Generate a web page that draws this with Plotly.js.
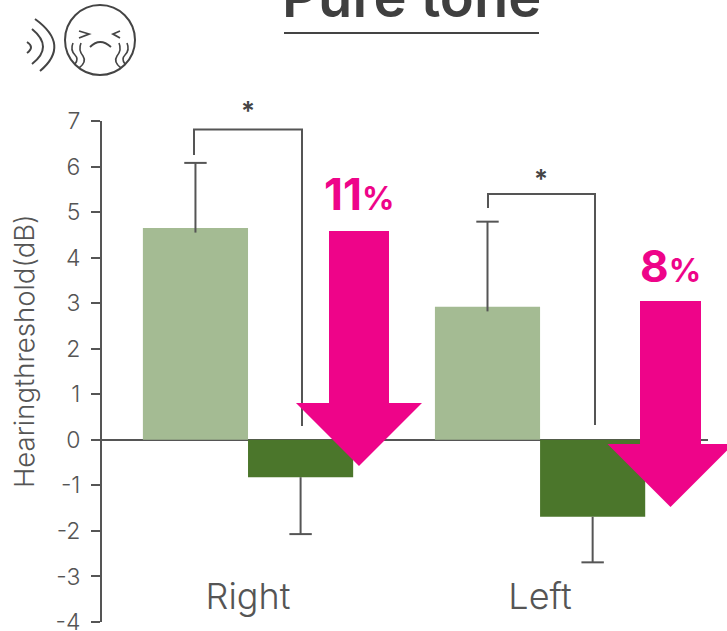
<!DOCTYPE html>
<html><head><meta charset="utf-8">
<script src="https://cdn.plot.ly/plotly-3.0.1.min.js"></script>
<style>html,body{margin:0;padding:0;background:#fff;overflow:hidden}#c{width:727px;height:631px}</style>
</head><body><div id="c"></div>
<script>
const categories = ['Right', 'Left'];
const positions = [0, 1];
const controlValues = [4.65, 2.92];
const controlErrors = [1.43, 1.87];
const treatedValues = [-0.82, -1.69];
const treatedErrors = [1.25, 1.0];
const yTicks = [-4,-3,-2,-1,0,1,2,3,4,5,6,7];
const reductions = ['11', '8'];

const ink = '#555555', L = 102, T = 121, W = 606, H = 501, gap = 0.28;
const fx = p => (p - L) / W, fy = p => (T + H - p) / H;
const path = (cmds) => cmds.map(c => c[0] + c.slice(1).map((v, i) => (i % 2 ? fy(v) : fx(v)).toFixed(5)).join(',')).join(' ') ;
const stroke = (cmds, w, col) => ({type:'path', xref:'paper', yref:'paper', layer:'above', path:path(cmds), line:{color:col||ink, width:w||2}, fillcolor:'rgba(0,0,0,0)'});
const arrow = (cx, top, neck, tip, sw, hw) => ({type:'path', xref:'paper', yref:'paper', layer:'above', line:{width:0}, fillcolor:'#EE0489',
  path:path([['M',cx-sw,top],['L',cx+sw,top],['L',cx+sw,neck],['L',cx+hw,neck],['L',cx,tip],['L',cx-hw,neck],['L',cx-sw,neck],['Z']])});

const shapes = [
  stroke([['M',194,155],['L',194,129.5],['L',302,129.5],['L',302,426]]),
  stroke([['M',488,208],['L',488,194],['L',595,194],['L',595,425]]),
  arrow(359, 231, 403, 466, 30, 63),
  arrow(670.5, 301, 444, 507, 30.5, 63),
  {type:'circle', xref:'paper', yref:'paper', x0:fx(65), x1:fx(135), y0:fy(75), y1:fy(5), line:{color:'#444', width:2}, fillcolor:'rgba(0,0,0,0)'},
  stroke([['M',35,19],['Q',71,45,40,71]], 2, '#444'),
  stroke([['M',32,29],['Q',54,47,32,64]], 2, '#444'),
  stroke([['M',27,42],['Q',35,47,27,53]], 2, '#444'),
  stroke([['M',79,31],['L',89,34],['L',79,38]], 1.8, '#444'),
  stroke([['M',120,31],['L',113,34],['L',120,38]], 1.8, '#444'),
  stroke([['M',90,47],['Q',100,37,111,47]], 1.8, '#444'),
  stroke([['M',81,43],['Q',78,50,83,56],['Q',87,62,79,68]], 1.6, '#444'),
  stroke([['M',73,43],['Q',70,50,75,55],['Q',79,59,75,64]], 1.6, '#444'),
  stroke([['M',119,43],['Q',122,50,117,56],['Q',113,62,121,68]], 1.6, '#444'),
  stroke([['M',127,43],['Q',130,50,125,55],['Q',121,59,125,64]], 1.6, '#444'),
  {type:'line', xref:'paper', yref:'paper', x0:fx(284), x1:fx(539), y0:fy(33), y1:fy(33), line:{color:'#444', width:2}}
];

const pct = (n) => '<b>' + n + '<span style="font-size:32px">%</span></b>';
const note = (text, x, y, size, col, weight, angle) => ({text, xref:'paper', yref:'paper', x:fx(x), y:fy(y), xanchor:'center', yanchor:'middle', showarrow:false, textangle:angle||0, font:{family:'Inter', size, color:col, weight:weight||400}});
const annotations = [
  note('Pure tone', 411, -3, 56, '#3f3f3f', 600),
  note('*', 248, 110, 26, '#444', 600),
  note('*', 541, 179, 26, '#444', 600),
  note(pct(reductions[0]), 359, 194, 44, '#EE0489', 800),
  note(pct(reductions[1]), 670, 266, 44, '#EE0489', 800),
  note('Hearingthreshold(dB)', 24, 351, 27.5, ink, 300, -90)
];

const barOffset = (1 - gap) / 4;
const errStyle = {type:'data', symmetric:false, color:ink, thickness:2, width:0};
const capMarker = {symbol:'line-ew', size:16, line:{color:ink, width:2}};
const traces = [
  {type:'bar', x:positions, y:controlValues, marker:{color:'#A4BB93'}, error_y:Object.assign({array:controlErrors, arrayminus:[0.1,0.1]}, errStyle)},
  {type:'bar', x:positions, y:treatedValues, marker:{color:'#4B762B'}, error_y:Object.assign({array:[0,0], arrayminus:treatedErrors}, errStyle)},
  {type:'scatter', mode:'markers', x:positions.map(p => p - barOffset), y:controlValues.map((v,i) => v + controlErrors[i]), marker:capMarker},
  {type:'scatter', mode:'markers', x:positions.map(p => p + barOffset), y:treatedValues.map((v,i) => v - treatedErrors[i]), marker:capMarker}
];

Plotly.newPlot('c', traces, {
  width:727, height:631, showlegend:false, paper_bgcolor:'#fff', plot_bgcolor:'#fff',
  margin:{l:L, r:19, t:T, b:9},
  barmode:'group', bargap:gap, bargroupgap:0,
  font:{family:'Inter', color:ink},
  xaxis:{type:'linear', range:[-0.5,1.575], tickvals:positions, ticktext:categories, anchor:'free', position:fy(572), side:'bottom',
    showline:false, ticks:'', showgrid:false, zeroline:false, tickfont:{family:'Inter', size:36, color:ink, weight:300}},
  yaxis:{range:[-4,7], tickvals:yTicks, ticktext:yTicks.map(String), showline:true, linecolor:ink, linewidth:2, ticks:'outside', ticklen:9, tickcolor:ink, tickwidth:2,
    ticklabelstandoff:6, ticklabeloverflow:'allow', showgrid:false, zeroline:true, zerolinecolor:ink, zerolinewidth:2,
    tickfont:{family:'Inter', size:23, color:ink, weight:300}},
  shapes, annotations
}, {displayModeBar:false, staticPlot:true});
</script></body></html>
